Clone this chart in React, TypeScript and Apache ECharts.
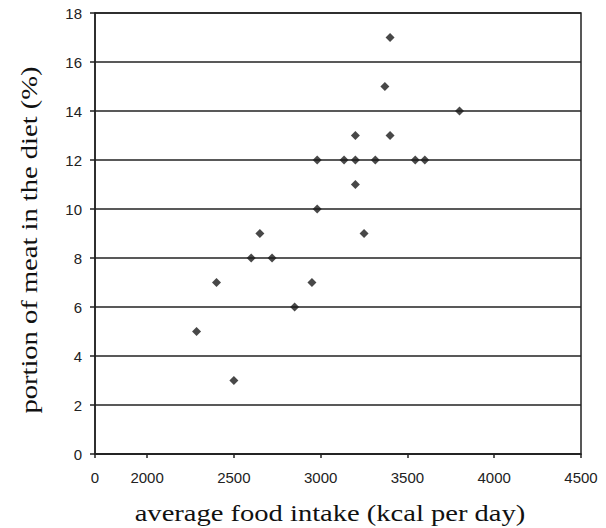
import React, { useEffect, useRef } from "react";
import * as echarts from "echarts";

const intake: number[] = [3400, 3370, 3200, 3400, 2980, 3135, 3200, 3315, 3545, 3600, 3200, 2980, 2650, 3250, 2600, 2720, 2400, 2950, 2850, 2285, 2500, 3800];
const meatShare: number[] = [17, 15, 13, 13, 12, 12, 12, 12, 12, 12, 11, 10, 9, 9, 8, 8, 7, 7, 6, 5, 3, 14];
const xTickValues: number[] = [1700, 2000, 2500, 3000, 3500, 4000, 4500];
const xTickLabels: string[] = ["0", "2000", "2500", "3000", "3500", "4000", "4500"];
const xTitle = "average food intake (kcal per day)";
const yTitle = "portion of meat in the diet (%)";

export default function App() {
  const ref = useRef<HTMLDivElement>(null);
  useEffect(() => {
    if (!ref.current) return;
    const chart = echarts.init(ref.current, null, { renderer: "svg" });
    const points = intake.map((x, i) => [x, meatShare[i]]);
    const titleStyle = { fontFamily: "Liberation Serif", fontSize: 24, fill: "#111", textAlign: "center", textVerticalAlign: "middle" };
    chart.setOption({
      animation: false,
      backgroundColor: "#ffffff",
      grid: { left: 95, right: 25, top: 13, bottom: 74, show: true, borderColor: "#222", borderWidth: 1.5, backgroundColor: "transparent" },
      xAxis: {
        type: "value",
        min: 1700,
        max: 4500,
        axisLine: { show: true, lineStyle: { color: "#222", width: 1.5 } },
        axisTick: { show: true, customValues: xTickValues, length: 4, lineStyle: { color: "#222", width: 1.5 } },
        axisLabel: {
          customValues: xTickValues,
          formatter: (v: number) => xTickLabels[xTickValues.indexOf(v)] ?? "",
          fontFamily: "Liberation Sans",
          fontSize: 15,
          color: "#222",
          margin: 16,
        },
        splitLine: { show: false },
      },
      yAxis: {
        type: "value",
        min: 0,
        max: 18,
        interval: 2,
        axisLine: { show: true, lineStyle: { color: "#222", width: 1.5 } },
        axisTick: { show: true, length: 5, lineStyle: { color: "#222", width: 1.5 } },
        axisLabel: { fontFamily: "Liberation Sans", fontSize: 15, color: "#222", margin: 13 },
        splitLine: { show: true, lineStyle: { color: "#222", width: 1.5 } },
      },
      graphic: [
        { type: "text", x: 330, y: 513, scaleX: 1.19, style: { ...titleStyle, text: xTitle } },
        { type: "text", x: 29, y: 240, rotation: Math.PI / 2, scaleX: 1.19, style: { ...titleStyle, text: yTitle } },
      ],
      series: [
        {
          type: "scatter",
          data: points,
          symbol: "diamond",
          symbolSize: 9,
          itemStyle: { color: "#1a1a1a" },
        },
      ],
    });
    return () => chart.dispose();
  }, []);
  return <div ref={ref} style={{ position: "fixed", left: 0, top: 0, width: 606, height: 528 }} />;
}
